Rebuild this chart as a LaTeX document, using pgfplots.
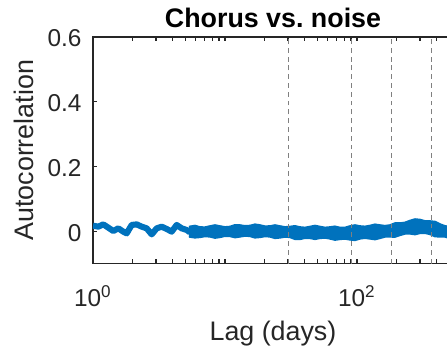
\documentclass[border=0pt]{standalone}
\usepackage{pgfplots}
\pgfplotsset{compat=1.18}
\usepackage{fontspec}
\setmainfont{Liberation Sans}
\definecolor{mblue}{RGB}{0,114,189}
\definecolor{axgray}{RGB}{38,38,38}
\definecolor{dgray}{RGB}{128,128,128}
\begin{document}
\begin{tikzpicture}
\path[use as bounding box] (0,0) rectangle (183.27pt,-143.09pt);
\clip (0,0) rectangle (183.27pt,-143.09pt);
\begin{axis}[
  at={(38.13pt,-15.17pt)}, anchor=north west,
  scale only axis, width=147.6pt, height=92.87pt,
  xmode=log, xmin=1, xmax=534, ymin=-0.1, ymax=0.6,
  xtick={1,100}, xticklabels={10\textsuperscript{0},10\textsuperscript{2}},
  minor xtick={2,3,4,5,6,7,8,9,10,20,30,40,50,60,70,80,90,200,300,400,500},
  ytick={0,0.2,0.4,0.6}, yticklabels={0,0.2,0.4,0.6},
  tick align=inside, major tick length=1.8pt, minor tick length=1.8pt,
  axis line style={axgray, line width=0.5pt},
  every tick/.style={axgray, line width=0.5pt},
  tick label style={font=\fontsize{10}{12}\selectfont, text=axgray},
  xticklabel style={anchor=base, yshift=-17.6pt},
  yticklabel style={anchor=east, inner sep=0pt, xshift=-4.5pt, yshift=-0.6pt},
  every axis title shift=0pt,
  title={Chorus vs.\ noise},
  title style={at={(axis description cs:0.5,1.044)}, anchor=base, font=\fontsize{11}{13}\selectfont\bfseries, text=black},
  xlabel={Lag (days)},
  xlabel style={at={(axis description cs:0.5,-0.338)}, anchor=base, font=\fontsize{11}{13}\selectfont, text=axgray},
  ylabel={Autocorrelation},
  ylabel style={at={(axis description cs:-0.166,0.5)}, anchor=base, font=\fontsize{11}{13}\selectfont, text=axgray},
]
% early noisy part
\addplot[mblue, line width=2.5pt, line join=round] coordinates {
(1.000,0.0170) (1.097,0.0139) (1.197,0.0210) (1.306,0.0108) (1.425,0.0006)
(1.555,0.0087) (1.696,-0.0015) (1.800,-0.0068) (1.964,0.0192) (2.143,0.0210)
(2.339,0.0139) (2.551,0.0087) (2.784,-0.0099) (3.038,0.0087) (3.315,0.0139)
(3.617,0.0068) (3.947,-0.0015) (4.306,0.0192) (4.699,0.0087) (5.127,0.0037)
(5.431,-0.0037)
};
% dense band
\addplot[mblue, fill=mblue, line width=0.8pt, line join=round] coordinates {
(5.330,0.0139) (5.926,0.0170) (6.466,0.0124) (7.056,0.0120)
(7.698,0.0155) (8.400,0.0185) (9.165,0.0155) (10.00,0.0127) (10.91,0.0139)
(11.91,0.0190) (12.99,0.0185) (14.17,0.0160) (15.47,0.0170) (16.88,0.0210)
(18.42,0.0185) (20.09,0.0150) (21.93,0.0155) (23.92,0.0185) (26.10,0.0155)
(28.48,0.0127) (31.08,0.0139) (33.91,0.0160) (37.00,0.0124) (40.37,0.0110)
(44.05,0.0139) (48.07,0.0170) (52.45,0.0139) (57.23,0.0110) (62.44,0.0124)
(68.13,0.0146) (74.33,0.0108) (81.11,0.0110) (88.5,0.0155) (96.57,0.0185)
(105.4,0.0155) (115.0,0.0143) (125.4,0.0170) (136.9,0.0208) (149.4,0.0185)
(163.0,0.0165) (177.8,0.0185) (194.1,0.0246) (211.7,0.0247) (231.0,0.0266)
(252.0,0.0324) (275.0,0.0370) (300.1,0.0355) (327.5,0.0312) (357.3,0.0309)
(389.9,0.0293) (425.4,0.0216) (464.2,0.0158) (506.4,0.0139) (552.6,0.0169)
(603,0.0139)
(603,-0.0216) (552.6,-0.0246) (506.4,-0.0216) (464.2,-0.0173) (425.4,-0.0170)
(389.9,-0.0162) (357.3,-0.0093) (327.5,-0.0058) (300.1,-0.0062) (275.0,-0.0100)
(252.0,-0.0077) (231.0,-0.0080) (211.7,-0.0124) (194.1,-0.0177) (177.8,-0.0170)
(163.0,-0.0173) (149.4,-0.0216) (136.9,-0.0254) (125.4,-0.0232) (115.0,-0.0212)
(105.4,-0.0232) (96.57,-0.0278) (88.5,-0.0263) (81.11,-0.0235) (74.33,-0.0247)
(68.13,-0.0270) (62.44,-0.0232) (57.23,-0.0204) (52.45,-0.0216) (48.07,-0.0246)
(44.05,-0.0216) (40.37,-0.0212) (37.00,-0.0247) (33.91,-0.0246) (31.08,-0.0185)
(28.48,-0.0173) (26.10,-0.0201) (23.92,-0.0216) (21.93,-0.0170) (20.09,-0.0158)
(18.42,-0.0185) (16.88,-0.0200) (15.47,-0.0155) (14.17,-0.0143) (12.99,-0.0170)
(11.91,-0.0193) (10.91,-0.0155) (10.00,-0.0150) (9.165,-0.0185) (8.400,-0.0208)
(7.698,-0.0170) (7.056,-0.0158) (6.466,-0.0185) (5.926,-0.0200) (5.330,-0.0170)
};
% dashed reference lines
\addplot[dgray, line width=0.5pt, dash pattern=on 2pt off 1.6pt] coordinates {(30.4,-0.1) (30.4,0.6)};
\addplot[dgray, line width=0.5pt, dash pattern=on 2pt off 1.6pt] coordinates {(91.3,-0.1) (91.3,0.6)};
\addplot[dgray, line width=0.5pt, dash pattern=on 2pt off 1.6pt] coordinates {(182.6,-0.1) (182.6,0.6)};
\addplot[dgray, line width=0.5pt, dash pattern=on 2pt off 1.6pt] coordinates {(365.25,-0.1) (365.25,0.6)};
\end{axis}
\end{tikzpicture}
\end{document}
